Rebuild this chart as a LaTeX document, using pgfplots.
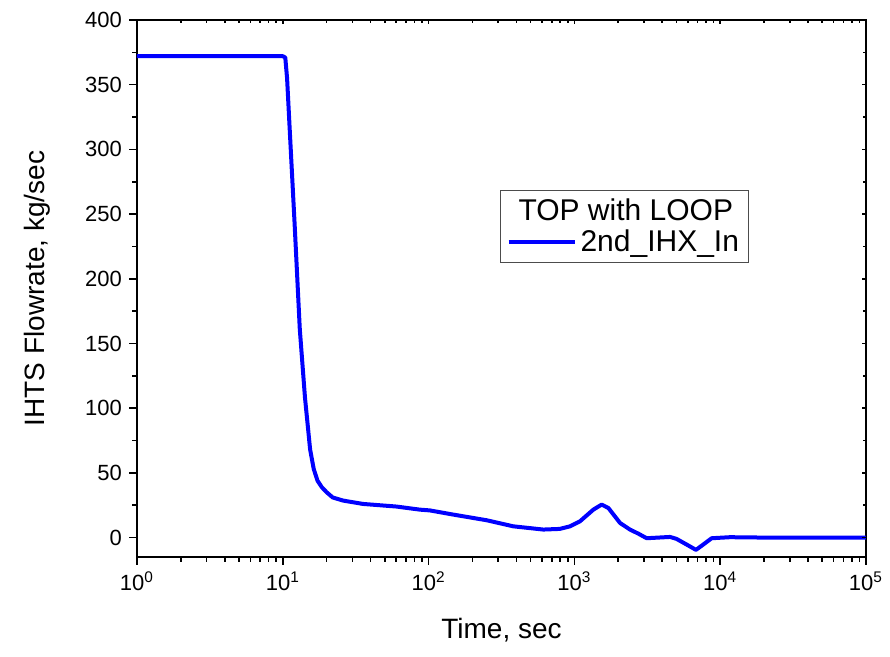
\documentclass[border=0pt]{standalone}
\usepackage{pgfplots}
\pgfplotsset{compat=1.18}
\usepackage{fontspec}
\setmainfont{Liberation Sans}
\begin{document}
\begin{tikzpicture}
\begin{axis}[
  scale only axis, width=364.5pt, height=268.5pt,
  xmode=log, xmin=1, xmax=100000, ymin=-15, ymax=400,
  xtick={1,10,100,1000,10000,100000},
  minor xtick={2,3,4,5,6,7,8,9,20,30,40,50,60,70,80,90,200,300,400,500,600,700,800,900,2000,3000,4000,5000,6000,7000,8000,9000,20000,30000,40000,50000,60000,70000,80000,90000},
  ytick={0,50,...,400},
  minor ytick={25,75,...,375},
  axis line style={line width=0.8pt},
  every tick/.style={black, line width=0.8pt},
  xticklabels={10\textsuperscript{0},10\textsuperscript{1},10\textsuperscript{2},10\textsuperscript{3},10\textsuperscript{4},10\textsuperscript{5}},
  /pgf/number format/assume math mode=true,
  tick label style={font=\fontsize{11}{13}\selectfont},
  tick align=outside,
  xtick pos=bottom, ytick pos=left,
  major tick length=4pt, minor tick length=2.5pt,
  xlabel={Time, sec}, ylabel={IHTS Flowrate, kg/sec},
  label style={font=\fontsize{14}{16}\selectfont},
  xlabel style={at={(axis description cs:0.5,0)}, anchor=north, yshift=-27pt},
  ylabel style={at={(axis description cs:0,0.5)}, anchor=south, yshift=40pt},
  legend style={at={(axis description cs:0.498,0.683)}, anchor=north west,
    draw=black!70, line width=0.5pt, font=\fontsize{15}{17}\selectfont,
    inner xsep=3pt, inner ysep=2pt, row sep=-1pt},
  legend cell align=left,
  legend image code/.code={\draw[#1, line width=2pt] (0pt,0pt) -- (33pt,0pt);},
]
\addlegendimage{empty legend}
\addlegendentry{\hspace{-31pt}TOP with LOOP}
\addplot[blue, line width=2pt, line join=round] coordinates {
(1,372) (10,372) (10.4,371) (10.7,355) (11.1,320) (12.07,241) (13.08,161) (14.2,108) (15.4,68) (16.3,53) (17.3,44) (18.5,39) (20,35) (22,31) (25.9,28.6) (35.5,26) (60,24) (87,21.6) (102,21) (147,17.8) (250,13.4) (381,8.7) (612,6.2) (795,6.7) (933,8.7) (1093,12.6) (1349,21.6) (1538,25.5) (1710,22.9) (2056,11.3) (2405,6.2) (2750,3) (3131,-0.5) (4530,0.5) (5015,-1) (5890,-5.4) (6820,-9.5) (7650,-5.4) (8740,-0.5) (11670,0.3) (20000,0) (100000,0)
};
\addlegendentry{2nd\_IHX\_In}
\end{axis}
\begin{axis}[
  scale only axis, width=364.5pt, height=268.5pt,
  xmode=log, xmin=1, xmax=100000, ymin=-15, ymax=400,
  xtick={1,10,100,1000,10000,100000},
  minor xtick={2,3,4,5,6,7,8,9,20,30,40,50,60,70,80,90,200,300,400,500,600,700,800,900,2000,3000,4000,5000,6000,7000,8000,9000,20000,30000,40000,50000,60000,70000,80000,90000},
  ytick={0,50,...,400},
  minor ytick={25,75,...,375},
  every tick/.style={black, line width=0.8pt},
  xticklabels={}, yticklabels={},
  axis line style={draw=none},
  tick align=inside,
  xtick pos=top, ytick pos=right,
  major tick length=2pt, minor tick length=1.5pt,
]
\end{axis}
\pgfresetboundingbox
\path (current axis.south west) ++(-68.5pt,-50pt) rectangle ([shift={(12pt,10pt)}]current axis.north east);
\end{tikzpicture}
\end{document}
